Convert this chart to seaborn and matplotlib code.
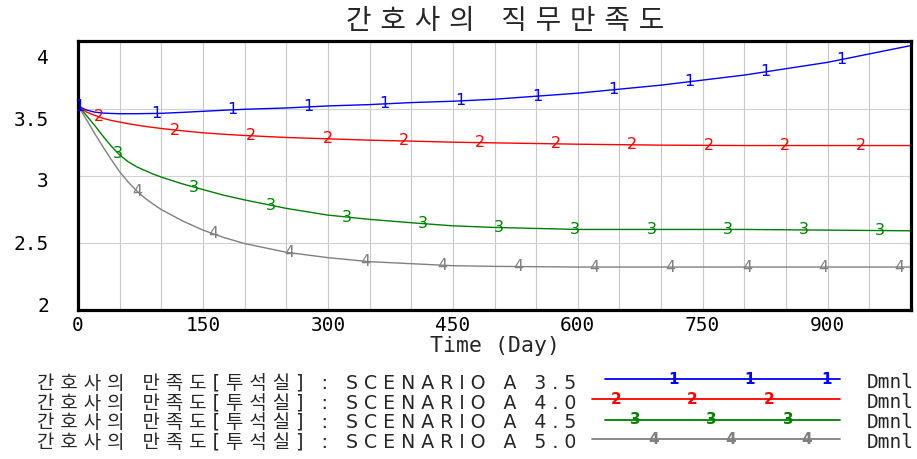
import numpy as np
import pandas as pd
import matplotlib
matplotlib.use("Agg")
import matplotlib.pyplot as plt
import matplotlib.transforms as mtransforms
import seaborn as sns

# ---- chart text -----------------------------------------------------------
title = "간호사의 직무만족도"
variable = "간호사의 만족도[투석실]"
unit = "Dmnl"
x_label = "Time (Day)"
scenarios = ["SCENARIO A 3.5", "SCENARIO A 4.0", "SCENARIO A 4.5", "SCENARIO A 5.0"]
series_ids = ["1", "2", "3", "4"]
colors = ["#0000ff", "#ff0000", "#008000", "#808080"]

# ---- simulated nurse satisfaction per scenario -----------------------------
days = [0, 10, 20, 30, 40, 50, 60, 70, 80, 90, 100, 125, 150, 175, 200,
        250, 300, 350, 400, 450, 500, 600, 700, 800, 900, 1000]
sat_a35 = [3.52, 3.49, 3.474, 3.467, 3.464, 3.462, 3.462, 3.462, 3.463, 3.464,
           3.465, 3.472, 3.48, 3.488, 3.495, 3.505, 3.52, 3.53, 3.545, 3.555,
           3.57, 3.615, 3.675, 3.75, 3.845, 3.97]
sat_a40 = [3.52, 3.475, 3.45, 3.428, 3.412, 3.40, 3.388, 3.378, 3.368, 3.36,
           3.352, 3.335, 3.32, 3.309, 3.30, 3.285, 3.275, 3.265, 3.258, 3.25,
           3.245, 3.235, 3.228, 3.225, 3.225, 3.225]
sat_a45 = [3.52, 3.45, 3.375, 3.295, 3.22, 3.155, 3.105, 3.068, 3.04, 3.013,
           2.99, 2.94, 2.897, 2.855, 2.82, 2.757, 2.707, 2.675, 2.65, 2.627,
           2.615, 2.60, 2.60, 2.60, 2.595, 2.59]
sat_a50 = [3.52, 3.42, 3.315, 3.215, 3.12, 3.03, 2.955, 2.89, 2.835, 2.79,
           2.748, 2.665, 2.595, 2.54, 2.495, 2.43, 2.39, 2.36, 2.345, 2.33,
           2.325, 2.32, 2.32, 2.32, 2.32, 2.32]
series = [sat_a35, sat_a40, sat_a45, sat_a50]

x_ticks = [0, 150, 300, 450, 600, 750, 900]
y_ticks = [2, 2.5, 3, 3.5, 4]
y_tick_labels = ["2", "2.5", "3", "3.5", "4"]

# ---- styling --------------------------------------------------------------
sns.set_theme(style="white")
plt.rcParams["font.family"] = ["DejaVu Sans Mono", "Noto Sans CJK KR"]
KR_FAMILY = ["DejaVu Sans", "Noto Sans CJK KR"]


def letterspaced(text):
    """Wide character spacing used by the simulation tool's charts."""
    return " ".join(text)


W, H = 917, 459
fig = plt.figure(figsize=(W / 100, H / 100), dpi=100)
ax = fig.add_axes([78 / W, 1 - 310 / H, (911 - 78) / W, (310 - 41.5) / H])

df = pd.DataFrame({
    "day": days * len(series),
    "value": [v for s in series for v in s],
    "scenario": np.repeat(scenarios, len(days)),
})
sns.lineplot(data=df, x="day", y="value", hue="scenario", hue_order=scenarios,
             palette=colors, linewidth=1.0, legend=False, errorbar=None, ax=ax)

# numbered markers riding on each curve
step = 91.5
for i, (vals, c, sid) in enumerate(zip(series, colors, series_ids)):
    for d in np.arange(2 + 23 * i, 1000, step):
        ax.text(d, np.interp(d, days, vals), sid, color=c, ha="center",
                va="center", fontsize=11.5, family="DejaVu Sans", zorder=4)

ax.set_xlim(0, 1000)
ax.set_ylim(2, 4)
ax.set_xticks(x_ticks)
ax.set_xticks(np.arange(0, 1001, 50), minor=True)
ax.set_yticks(y_ticks)
ax.set_yticklabels(y_tick_labels)
ax.tick_params(axis="both", which="both", length=0, labelsize=14, colors="black")
ax.tick_params(axis="x", pad=4)
ax.tick_params(axis="y", pad=21)
ax.grid(True, which="both", axis="x", color="#c8c8c8", linewidth=0.8)
ax.grid(True, which="major", axis="y", color="#d2d2d2", linewidth=0.8)
ax.set_axisbelow(True)
for sp in ax.spines.values():
    sp.set_visible(True)
    sp.set_color("black")
    sp.set_linewidth(2.3)

# y labels are spread slightly inside the frame
for lbl, dy in zip(ax.get_yticklabels(), [-6, 0, 4, 10, 15]):
    lbl.set_transform(lbl.get_transform() +
                      mtransforms.ScaledTranslation(0, -dy / 100, fig.dpi_scale_trans))

ax.set_ylabel("")
ax.set_xlabel(x_label, fontsize=15.5)
ax.xaxis.label.set_va("center")
ax.xaxis.set_label_coords(0.5, -(346 - 310) / (310 - 41.5))

# ---- title and legend, laid out in figure pixels ---------------------------
lax = fig.add_axes([0, 0, 1, 1], facecolor="none")
lax.set_xlim(0, W)
lax.set_ylim(H, 0)
lax.axis("off")

lax.text(505, 21, letterspaced(title), ha="center", va="center",
         fontsize=20, family=KR_FAMILY)

row_text_y = [383, 403, 422.5, 442]
row_line_y = [379, 399, 420, 439]
line_x0 = [605, 592, 605, 592]
for i, (scen, c, sid) in enumerate(zip(scenarios, colors, series_ids)):
    lax.text(37, row_text_y[i], letterspaced(f"{variable} : {scen}"),
             ha="left", va="center", fontsize=13.6, family=KR_FAMILY)
    lax.plot([line_x0[i], 840], [row_line_y[i]] * 2, color=c, linewidth=1.3)
    for xm in np.arange(597 + 19 * i, 841, 76.5):
        if xm >= line_x0[i]:
            lax.text(xm, row_line_y[i], sid, color=c, ha="center", va="center",
                     fontsize=11, fontweight="bold", family="DejaVu Sans")
    lax.text(867, row_text_y[i], unit, ha="left", va="center", fontsize=14)

fig.savefig("out.png", dpi=100)
